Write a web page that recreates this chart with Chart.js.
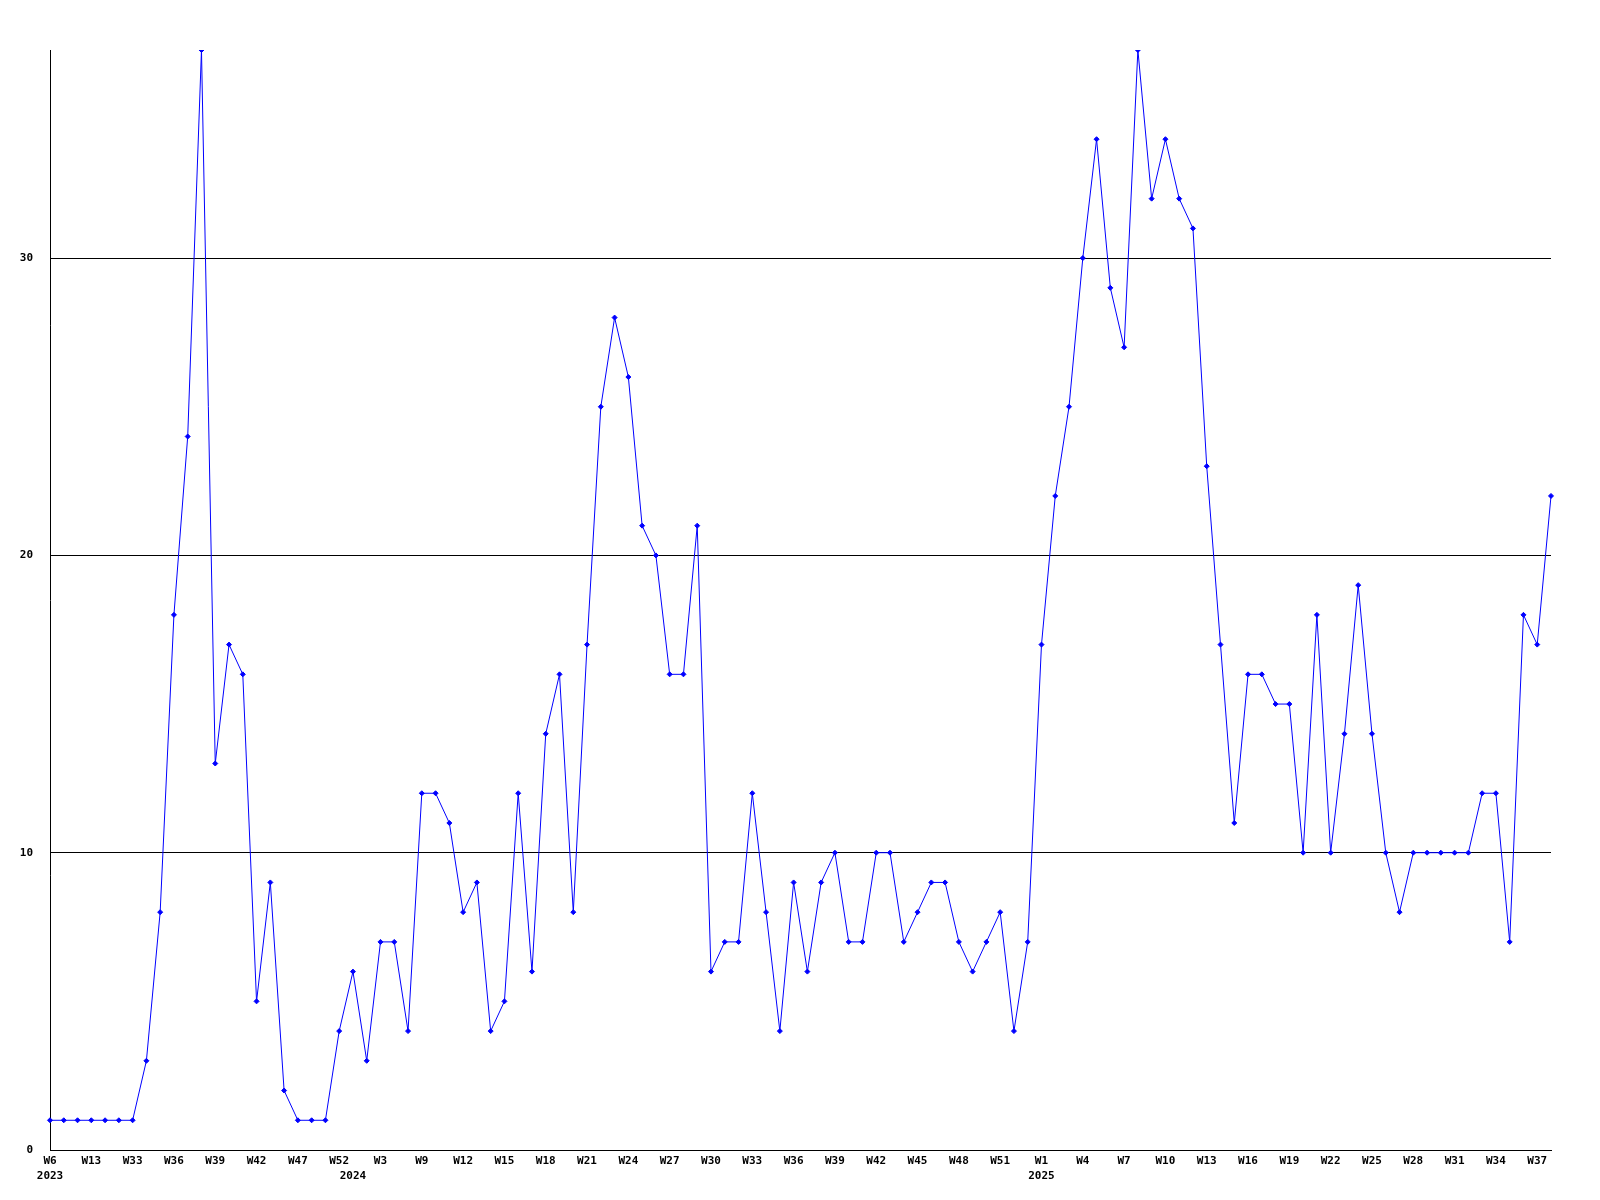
<!DOCTYPE html>
<html>
<head>
<meta charset="utf-8">
<script src="https://cdn.jsdelivr.net/npm/chart.js@4/dist/chart.umd.min.js"></script>
<style>
html,body{margin:0;padding:0;background:#fff;}
#wrap{width:1600px;height:1200px;position:relative;}
</style>
</head>
<body>
<div id="wrap"><canvas id="c" width="1600" height="1200"></canvas></div>
<script>
// Week labels (one per data point)
const weeks = [
  "W6","W7","W8","W13","W14","W32","W33","W34","W35","W36","W37","W38","W39","W40","W41","W42","W44","W46","W47","W48","W50","W52",
  "W1","W2","W3","W5","W7","W9","W10","W11","W12","W13","W14","W15","W16","W17","W18","W19","W20","W21","W22","W23","W24","W25","W26","W27","W28","W29","W30","W31","W32","W33","W34","W35","W36","W37","W38","W39","W40","W41","W42","W43","W44","W45","W46","W47","W48","W49","W50","W51","W52","W53",
  "W1","W2","W3","W4","W5","W6","W7","W8","W9","W10","W11","W12","W13","W14","W15","W16","W17","W18","W19","W20","W21","W22","W23","W24","W25","W26","W27","W28","W29","W30","W31","W32","W33","W34","W35","W36","W37","W38"
];
// Year label shown under the first point of each year
const yearStarts = {0: "2023", 22: "2024", 72: "2025"};
// Weekly counts
const counts = [
  1,1,1,1,1,1,1,3,8,18,24,37,13,17,16,5,9,2,1,1,1,4,
  6,3,7,7,4,12,12,11,8,9,4,5,12,6,14,16,8,17,25,28,26,21,20,16,16,21,6,7,7,12,8,4,9,6,9,10,7,7,10,10,7,8,9,9,7,6,7,8,4,7,
  17,22,25,30,34,29,27,37,32,34,32,31,23,17,11,16,16,15,15,10,18,10,14,19,14,10,8,10,10,10,10,10,12,12,7,18,17,22
];
const yTicks = [0, 10, 20, 30];
const yMax = 37;

const FONT = {family: "'DejaVu Sans Mono', monospace", size: 11, weight: 'bold', lineHeight: 1.35};

new Chart(document.getElementById('c'), {
  type: 'line',
  data: {
    labels: weeks,
    datasets: [{
      data: counts,
      borderColor: '#0000ff',
      backgroundColor: '#0000ff',
      borderWidth: 1,
      tension: 0,
      fill: false,
      pointStyle: 'rectRot',
      pointRadius: 2.5,
      pointHoverRadius: 3,
      pointBorderWidth: 1
    }]
  },
  options: {
    responsive: false,
    animation: false,
    devicePixelRatio: 1,
    layout: {padding: {top: 50, right: 49, left: 0, bottom: 0}},
    plugins: {legend: {display: false}, tooltip: {enabled: true}},
    scales: {
      x: {
        type: 'category',
        offset: false,
        border: {display: true, color: '#000', width: 1},
        grid: {display: false, drawTicks: false},
        ticks: {
          autoSkip: false,
          maxRotation: 0,
          minRotation: 0,
          padding: 4,
          color: '#000',
          font: FONT,
          callback: function(val, i) {
            const w = (i % 3 === 0) ? weeks[i] : '';
            if (yearStarts[i] !== undefined) return [w, yearStarts[i]];
            return w;
          }
        },
        afterFit: function(s) { s.height = 50; }
      },
      y: {
        min: 0,
        max: yMax,
        border: {display: true, color: '#000', width: 1},
        grid: {color: '#000', lineWidth: 1, drawTicks: false},
        afterBuildTicks: function(s) { s.ticks = yTicks.map(v => ({value: v})); },
        ticks: {
          includeBounds: false,
          padding: 17,
          color: '#000',
          font: FONT,
          callback: function(v) { return String(v); }
        },
        afterFit: function(s) { s.width = 50; }
      }
    }
  }
});
</script>
</body>
</html>
